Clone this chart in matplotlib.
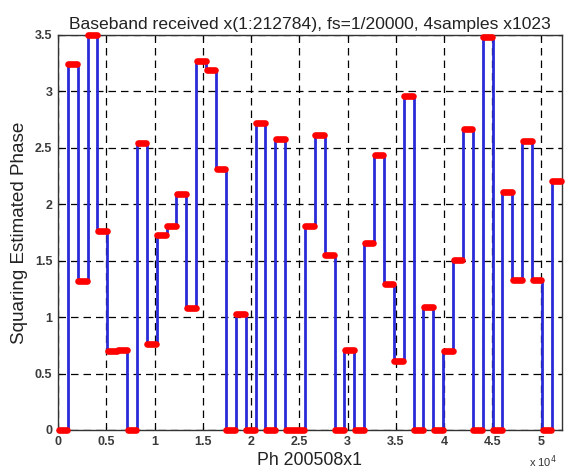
import numpy as np
import matplotlib.pyplot as plt

plt.rcParams['font.family'] = ['Liberation Sans', 'DejaVu Sans']

# one level per block of 1023 samples
SEG = 1023
levels = [0, 3.24, 1.32, 3.50, 1.76, 0.70, 0.71, 0, 2.54, 0.76,
          1.73, 1.81, 2.09, 1.08, 3.27, 3.19, 2.31, 0, 1.03, 0,
          2.72, 0, 2.58, 0, 0, 1.81, 2.61, 1.55, 0, 0.71,
          0, 1.66, 2.44, 1.29, 0.61, 2.96, 0, 1.09, 0, 0.70,
          1.51, 2.67, 0, 3.48, 0, 2.11, 1.33, 2.56, 1.33, 0,
          2.21]
xticks = np.arange(0, 50001, 5000)
xticklabels = ['0', '0.5', '1', '1.5', '2', '2.5', '3', '3.5', '4', '4.5', '5']
yticks = np.arange(0, 3.51, 0.5)
yticklabels = ['0', '0.5', '1', '1.5', '2', '2.5', '3', '3.5']

edges = 1 + SEG * np.arange(len(levels) + 1)

fig = plt.figure(figsize=(5.68, 4.72), dpi=100)
ax = fig.add_axes([0.102, 0.089, 0.887, 0.837])

ax.stairs(levels, edges, baseline=None, color='#2a2ad8', lw=2.0, zorder=3)
ax.hlines(levels, edges[:-1] + 60, edges[1:] - 60, colors='#ff0000', lw=4.8,
          capstyle='round', zorder=4, clip_on=False)

ax.set_xlim(0, edges[-1])
ax.set_ylim(0, 3.5)
ax.set_xticks(xticks)
ax.set_xticklabels(xticklabels)
ax.set_yticks(yticks)
ax.set_yticklabels(yticklabels)
ax.tick_params(direction='in', top=True, right=True, length=3,
               labelsize=9, labelcolor='#3a3a3a', pad=4)
for lab in ax.get_xticklabels() + ax.get_yticklabels():
    lab.set_fontweight('bold')

ax.grid(True, color='black', linestyle=(0, (6, 4)), lw=0.9)
ax.set_axisbelow(True)
for s in ax.spines.values():
    s.set_color('#333333')
    s.set_linewidth(1.0)

ax.set_title('Baseband received x(1:212784), fs=1/20000, 4samples x1023',
             fontsize=12.6, pad=4, color='#222222')
ax.set_xlabel('Ph 200508x1', fontsize=12.8, labelpad=3, color='#222222')
ax.set_ylabel('Squaring Estimated Phase', fontsize=13.6, labelpad=5, color='#222222')
fig.text(0.955, 0.012, r'x 10$^4$', fontsize=8, color='#333333', ha='center')

fig.savefig('out.png', dpi=100)
